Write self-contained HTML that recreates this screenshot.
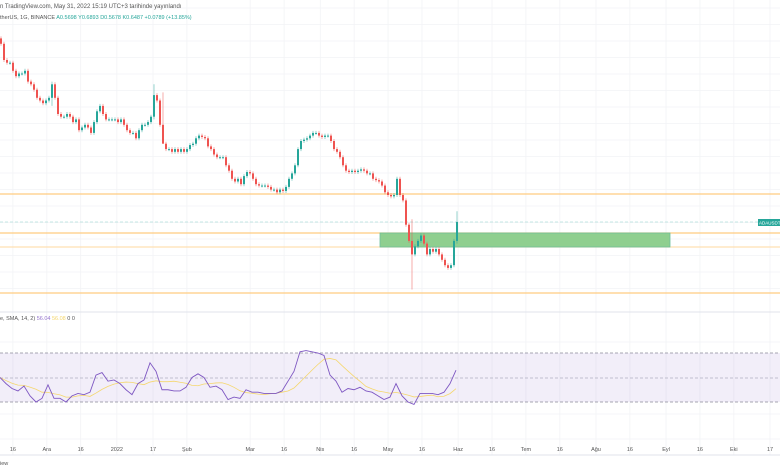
<!DOCTYPE html>
<html><head><meta charset="utf-8"><style>
html,body{margin:0;padding:0;background:#fff;width:780px;height:470px;overflow:hidden}
svg{display:block;font-family:"Liberation Sans",sans-serif}
</style></head><body>
<svg id="c" width="780" height="470" viewBox="0 0 780 470">
<g id="grid"></g>
<text x="0" y="8" font-size="6" fill="#555">n TradingView.com, May 31, 2022 15:19 UTC+3 tarihinde yayınlandı</text>
<text x="0" y="19" font-size="5.5" fill="#555">therUS, 1G, BINANCE <tspan fill="#26a69a">  A0.5698  Y0.6893  D0.5678  K0.6487  +0.0789 (+13.85%)</tspan></text>
<line x1="0" y1="194" x2="780" y2="194" stroke="#ffcc80" stroke-width="1.2"/>
<line x1="0" y1="233" x2="780" y2="233" stroke="#ffcc80" stroke-width="1.2"/>
<line x1="0" y1="247" x2="780" y2="247" stroke="#ffe0b2" stroke-width="1.2"/>
<line x1="0" y1="293" x2="780" y2="293" stroke="#ffcc80" stroke-width="1.2"/>
<line x1="0" y1="222" x2="758" y2="222" stroke="#b2dfdb" stroke-width="0.8" stroke-dasharray="3,2"/>
<rect x="380" y="233" width="290" height="14" fill="#8fcf8f" stroke="#6dbf9a" stroke-width="0.8"/>
<g id="candles"></g>
<rect x="758" y="219" width="22" height="7" fill="#26a69a"/>
<text x="759" y="224.5" font-size="4.5" fill="#fff">ADAUSDT</text>
<line x1="0" y1="312" x2="780" y2="312" stroke="#e0e3eb" stroke-width="1"/>
<text x="0" y="320" font-size="5.5" fill="#555">e, SMA, 14, 2) <tspan fill="#9575cd"> 56.04</tspan><tspan fill="#f5d76e">  56.08</tspan>  0  0</text>
<rect x="0" y="353" width="780" height="49" fill="#7e57c2" fill-opacity="0.1"/>
<line x1="0" y1="353" x2="780" y2="353" stroke="#8a8a99" stroke-width="0.7" stroke-dasharray="3,2"/>
<line x1="0" y1="378" x2="780" y2="378" stroke="#b0b0c0" stroke-width="0.7" stroke-dasharray="3,2"/>
<line x1="0" y1="402" x2="780" y2="402" stroke="#8a8a99" stroke-width="0.7" stroke-dasharray="3,2"/>
<path id="sma" fill="none" stroke="#f5d76e" stroke-width="0.8"/>
<path id="rsi" fill="none" stroke="#7e57c2" stroke-width="0.9"/>
<line x1="0" y1="455" x2="780" y2="455" stroke="#e0e3eb" stroke-width="1"/>
<g id="xlabels"></g>
<text x="0" y="465" font-size="5.5" fill="#555">iew</text>
</svg>
<script>
const closes=[1.31,1.25,1.24,1.24,1.21,1.19,1.20,1.20,1.21,1.17,1.16,1.14,1.11,1.10,1.09,1.10,1.11,1.16,1.11,1.05,1.04,1.04,1.05,1.04,1.02,1.03,0.99,1.00,1.01,1.00,0.98,1.02,1.06,1.08,1.05,1.03,1.03,1.03,1.03,1.02,1.03,1.01,0.99,0.98,0.98,0.96,0.99,1.01,1.01,1.02,1.04,1.12,1.10,1.01,0.94,0.92,0.92,0.91,0.92,0.91,0.92,0.91,0.92,0.935,0.94,0.96,0.97,0.965,0.96,0.93,0.92,0.90,0.89,0.89,0.89,0.86,0.84,0.81,0.80,0.81,0.79,0.82,0.835,0.83,0.81,0.79,0.785,0.785,0.785,0.78,0.77,0.77,0.76,0.77,0.765,0.78,0.81,0.83,0.86,0.92,0.95,0.955,0.96,0.97,0.98,0.98,0.97,0.965,0.97,0.97,0.95,0.92,0.91,0.89,0.86,0.84,0.835,0.84,0.835,0.84,0.845,0.84,0.83,0.83,0.81,0.805,0.80,0.785,0.76,0.75,0.745,0.75,0.81,0.75,0.73,0.64,0.58,0.53,0.56,0.58,0.60,0.57,0.53,0.55,0.54,0.55,0.53,0.51,0.49,0.48,0.49,0.58,0.65];
const wickIdx=[17,51,54,137,152];
const wickHigh=[1.17,1.16,1.13,0.66,0.69];
const wickLow=[1.08,1.03,1.00,0.40,0.57];
const rsiVals=[50,45,41,39,43,35,30,33,44,33,33,30,35,37,36,38,52,54,47,48,45,40,36,45,48,62,55,40,40,39,39,42,50,53,50,42,43,40,32,34,33,40,38,38,37,37,37,39,47,55,71,72,71,70,68,52,47,38,41,40,42,39,38,35,32,34,45,35,30,28,37,37,37,36,38,45,56];
const xLabels=["16","Ara","16","2022","17","Şub","Mar","16","Nis","16","May","16","Haz","16","Tem","16","Ağu","16","Eyl","16","Eki","17"];
const xLabelDays=[15,30,45,61,77,92,120,135,151,166,181,196,212,227,242,257,273,288,304,319,334,350];

const NS="http://www.w3.org/2000/svg";
const X0=0,DX=3;
const xScale=i=>X0+i*DX;
const dayX=d=>d*2.26-21;
const yScale=p=>222-(p-0.65)*270;
const rsiY=r=>402-(r-30)*49/40;

const cg=document.getElementById('candles');
for(let i=0;i<closes.length;i++){
  const o=i?closes[i-1]:closes[0]+0.02, c=closes[i];
  const up=c>=o, col=up?"#26a69a":"#ef5350";
  let hi=Math.max(o,c), lo=Math.min(o,c);
  let yh=yScale(hi)-2, yl=yScale(lo)+2;
  const k=wickIdx.indexOf(i);
  if(k>=0){yh=yScale(wickHigh[k]);yl=yScale(wickLow[k]);}
  const x=xScale(i);
  const w=document.createElementNS(NS,'line');
  w.setAttribute('x1',x+1);w.setAttribute('x2',x+1);
  w.setAttribute('y1',yh);w.setAttribute('y2',yl);
  w.setAttribute('stroke',col);w.setAttribute('stroke-width','0.6');w.setAttribute('opacity','0.8');
  
  
  cg.appendChild(w);
  const r=document.createElementNS(NS,'rect');
  const yt=yScale(hi), yb=yScale(lo);
  r.setAttribute('x',x);r.setAttribute('width',2);
  r.setAttribute('y',yt);r.setAttribute('height',Math.max(1,yb-yt));
  r.setAttribute('fill',col);
  
  
  cg.appendChild(r);
}

let d="";
rsiVals.forEach((v,i)=>{d+=(i?"L":"M")+xScale(2*i)+","+rsiY(v);});
document.getElementById('rsi').setAttribute('d',d);
let ds="";
rsiVals.forEach((v,i)=>{const s=rsiVals.slice(Math.max(0,i-6),i+1);const m=s.reduce((a,b)=>a+b,0)/s.length;ds+=(i?"L":"M")+xScale(2*i)+","+rsiY(m);});
document.getElementById('sma').setAttribute('d',ds);

const g=document.getElementById('grid');
for(let y=8;y<305;y+=16.5){const l=document.createElementNS(NS,'line');l.setAttribute('x1',0);l.setAttribute('x2',780);l.setAttribute('y1',y);l.setAttribute('y2',y);l.setAttribute('stroke','#f2f3f6');l.setAttribute('stroke-width','0.8');


g.appendChild(l);}
[342,414,439].forEach(y=>{const l=document.createElementNS(NS,'line');l.setAttribute('x1',0);l.setAttribute('x2',780);l.setAttribute('y1',y);l.setAttribute('y2',y);l.setAttribute('stroke','#f2f3f6');l.setAttribute('stroke-width','0.8');


g.appendChild(l);});
const xl=document.getElementById('xlabels');
xLabels.forEach((t,i)=>{const x=dayX(xLabelDays[i]);
  const l=document.createElementNS(NS,'line');l.setAttribute('x1',x);l.setAttribute('x2',x);l.setAttribute('y1',0);l.setAttribute('y2',455);l.setAttribute('stroke','#f2f3f6');l.setAttribute('stroke-width','0.8');
  
  
  g.appendChild(l);
  const tx=document.createElementNS(NS,'text');tx.setAttribute('x',x);tx.setAttribute('y',451);tx.setAttribute('font-size','5.5');tx.setAttribute('fill','#555');tx.setAttribute('text-anchor','middle');tx.textContent=t;
  
  
  xl.appendChild(tx);});
</script>
</body></html>
